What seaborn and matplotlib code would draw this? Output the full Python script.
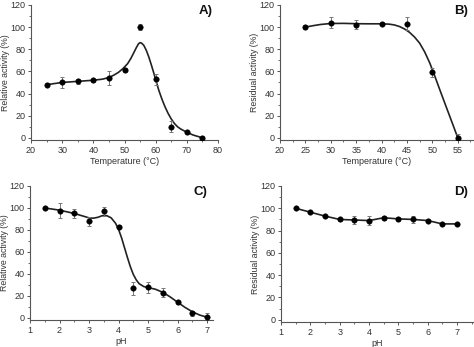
import matplotlib
matplotlib.use("Agg")
import matplotlib.pyplot as plt
from matplotlib.ticker import MultipleLocator
import seaborn as sns

sns.set_theme(style="ticks")
plt.rcParams['font.family'] = ['Liberation Sans', 'DejaVu Sans']

# ---- Panel A: temperature optimum ----
a_temp = [25, 30, 35, 40, 45, 50, 55, 60, 65, 70, 75]
a_act = [48, 50, 51, 52, 54, 61, 100, 53, 10, 5, 0]
a_err = [1.5, 5, 2, 1.5, 6, 2, 3, 5, 5, 1.5, 1.5]
a_fit_x = [25, 30, 35, 40, 43, 45, 46.5, 48, 49.5, 51, 52, 53, 53.8, 54.5, 55, 55.5, 56.2, 57, 57.8, 58.6,
           59.4, 60.2, 61, 62, 63, 64, 65, 66, 67, 68, 70, 72, 75]
a_fit_y = [48, 50, 51, 52, 53, 54.5, 56.5, 59, 62.5, 67, 71.5, 77, 81.5, 85, 86, 85.5, 83.5, 79, 73, 66,
           58.5, 50.5, 43, 35, 28, 22, 17, 13, 10, 8, 5, 2.5, 0]

# ---- Panel B: thermal stability ----
b_temp = [25, 30, 35, 40, 45, 50, 55]
b_act = [100, 104, 102, 103, 103, 59, 0]
b_err = [1.5, 5, 4, 1.5, 6, 4, 3]
b_fit_x = [25, 26.5, 28, 30, 32.5, 35, 37.5, 40, 41.5, 42.5, 43.5, 44.5, 45.5, 46.5, 47.5, 48.5, 49.5,
           50.5, 51.5, 52.5, 53.5, 54.3, 55]
b_fit_y = [100, 101.3, 102.4, 103.3, 103.4, 103.1, 103, 103, 102.7, 102, 100.6, 98.4, 95.3, 91, 85.5, 77.5, 67.5,
           55.5, 43, 30.7, 18.5, 8.7, 0]

# ---- Panel C: pH optimum ----
c_ph = [1.5, 2, 2.5, 3, 3.5, 4, 4.5, 5, 5.5, 6, 6.5, 7]
c_act = [100, 97.5, 95, 88, 97, 83, 27, 28, 23, 14, 4, 1]
c_err = [1, 7, 4, 4, 4, 1.5, 6, 5, 4, 1.5, 2, 3]
c_fit_x = [1.5, 2, 2.5, 3, 3.15, 3.3, 3.45, 3.6, 3.75, 3.9, 4.0, 4.1, 4.2, 4.3, 4.4, 4.5, 4.6, 4.7, 4.85,
           5, 5.25, 5.5, 5.75, 6, 6.25, 6.5, 6.75, 7]
c_fit_y = [100, 98, 95, 91, 90.7, 91.5, 93, 93, 91, 86, 80.5, 73, 64, 55, 46.5, 39.5, 34.5, 31, 28.5,
           27.5, 26, 23.2, 19, 14.2, 9.5, 5.5, 2.5, 0.5]

# ---- Panel D: pH stability ----
d_ph = [1.5, 2, 2.5, 3, 3.5, 4, 4.5, 5, 5.5, 6, 6.5, 7]
d_act = [100, 96.5, 93, 90, 89.5, 89, 91.5, 90.5, 90, 89, 86, 86]
d_err = [1, 1, 1, 1, 4, 4, 2, 2, 3, 1.5, 1, 1]

W, H = 474, 347
fig = plt.figure(figsize=(W / 100, H / 100), dpi=100)

def rect(l, r, t, b):
    return [l / W, 1 - b / H, (r - l) / W, (b - t) / H]

axA = fig.add_axes(rect(31, 218, 5, 140))
axB = fig.add_axes(rect(280, 474, 5, 140))
axC = fig.add_axes(rect(30, 213, 186, 320))
axD = fig.add_axes(rect(281, 474, 186, 322))

txt = '#333333'
ecol = '#777777'

def draw(ax, x, y, err, fx, fy, xlabel, ylabel, xlim, xmaj, xmin, tag):
    if fx is not None:
        sns.lineplot(x=fx, y=fy, ax=ax, color='#222222', lw=1.2, sort=False)
    else:
        sns.lineplot(x=x, y=y, ax=ax, color='#222222', lw=1.2, sort=False)
    ax.errorbar(x, y, yerr=err, fmt='none', ecolor=ecol, elinewidth=0.7, capsize=1.5, capthick=0.7)
    sns.scatterplot(x=x, y=y, ax=ax, color='black', s=16, edgecolor='black', linewidth=0.3, zorder=5)
    ax.set_xlim(*xlim)
    ax.set_ylim(-2, 120)
    ax.xaxis.set_major_locator(MultipleLocator(xmaj))
    ax.xaxis.set_minor_locator(MultipleLocator(xmin))
    ax.yaxis.set_major_locator(MultipleLocator(20))
    ax.yaxis.set_minor_locator(MultipleLocator(10))
    for s in ['top', 'right']:
        ax.spines[s].set_visible(False)
    for s in ['left', 'bottom']:
        ax.spines[s].set_color('#555555')
        ax.spines[s].set_linewidth(0.8)
    ax.spines['left'].set_bounds(-2, 120)
    ax.tick_params(which='major', length=2.5, width=0.7, color='#555555', labelsize=6.5, labelcolor=txt, pad=1.5, direction='out')
    ax.tick_params(which='minor', length=1.3, width=0.6, color='#555555', direction='out')
    ax.set_xlabel(xlabel, fontsize=6.5, color=txt, labelpad=2)
    ax.set_ylabel(ylabel, fontsize=6.3, color=txt, labelpad=0.5)
    ax.text(0.97, 1.0, tag, transform=ax.transAxes, ha='right', va='top', fontsize=9.5, fontweight='bold', color='#111111')

draw(axA, a_temp, a_act, a_err, a_fit_x, a_fit_y, 'Temperature (°C)', 'Relative activity (%)', (20, 80), 10, 5, 'A)')
draw(axB, b_temp, b_act, b_err, b_fit_x, b_fit_y, 'Temperature (°C)', 'Residual activity (%)', (20, 58.2), 5, 2.5, 'B)')
draw(axC, c_ph, c_act, c_err, c_fit_x, c_fit_y, 'pH', 'Relative activity (%)', (1, 7.2), 1, 0.5, 'C)')
draw(axD, d_ph, d_act, d_err, None, None, 'pH', 'Residual activity (%)', (1, 7.58), 1, 0.5, 'D)')

fig.savefig('out.png', dpi=100, facecolor='white')
